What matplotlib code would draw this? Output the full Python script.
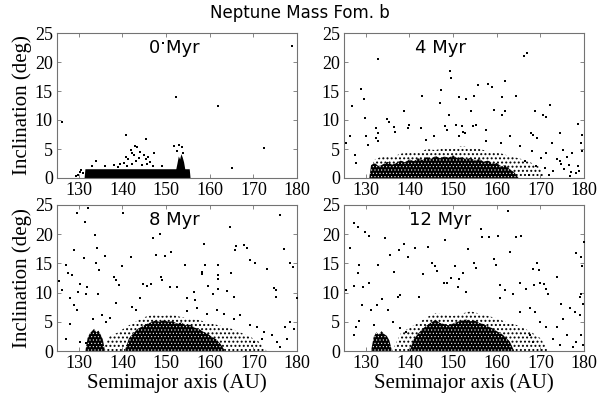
import matplotlib
matplotlib.use("Agg")
import matplotlib.pyplot as plt

# ---------------- data ----------------
title = "Neptune Mass Fom. b"
panel_labels = ["0 Myr", "4 Myr", "8 Myr", "12 Myr"]
xticks = [130, 140, 150, 160, 170, 180]
yticks = [0, 5, 10, 15, 20, 25]

# Panel 0 Myr: sparse points (a [AU], i [deg])
a0 = [126.1, 152.2, 161.8, 178.8, 172.5, 165.0, 149.3, 140.8, 145.3, 142.9, 143.3, 141.9,
      140.8, 142.3, 144.0, 144.9, 145.9, 147.2, 145.5, 141.3, 140.3, 142.1, 143.2, 144.4,
      145.7, 139.4, 138.0, 134.0, 151.7, 153.0, 153.6, 152.5, 153.8, 149.0, 147.1, 136.0,
      129.8, 130.2, 129.3, 130.6, 131.0, 141.0, 143.8, 146.3, 142.6, 139.0, 133.0]
i0 = [9.7, 14.0, 12.5, 22.8, 5.1, 1.8, 23.3, 7.5, 6.7, 5.6, 5.3, 4.9,
      3.7, 4.3, 4.4, 4.0, 3.6, 4.3, 3.2, 3.2, 2.6, 2.5, 2.9, 2.3,
      2.5, 2.5, 2.3, 2.9, 5.5, 5.7, 5.3, 4.6, 4.3, 2.0, 2.1, 2.0,
      0.6, 1.1, 0.3, 1.4, 0.9, 2.1, 3.4, 2.8, 3.9, 1.9, 2.0]
# dense band envelope (upper inclination of the densely filled region)
band0_a = [131.2, 131.4, 155.3, 155.5]
band0_top = [0.0, 1.6, 1.6, 0.0]
clump0_a = [152.2, 152.5, 152.8, 153.1, 153.4, 153.7, 154.0, 154.3]
clump0_top = [1.5, 2.6, 3.8, 3.3, 4.2, 3.6, 2.8, 1.5]

# Panel 4 Myr
a4 = [132.9, 129.0, 129.6, 126.8, 129.8, 134.9, 135.3, 138.8, 142.9, 147.2, 147.1, 149.2,
      149.6, 149.1, 151.4, 153.0, 154.7, 155.8, 154.0, 158.1, 159.0, 159.3, 161.3, 162.0,
      161.8, 161.1, 164.4, 166.2, 167.0, 168.8, 170.7, 171.4, 172.1, 174.4, 178.6, 179.6,
      179.4, 126.3, 125.5, 127.5, 127.8, 130.1, 130.6, 132.3, 132.9, 132.4, 132.9, 136.5,
      136.8, 139.7, 140.0, 142.6, 143.9, 145.7, 148.1, 148.5, 150.7, 152.7, 155.3, 154.6,
      152.3, 152.1, 151.4, 157.5, 157.6, 161.0, 163.0, 165.3, 167.9, 168.3, 169.2, 172.7,
      175.2, 177.3, 171.4, 168.0, 170.2, 173.7, 174.4, 176.0, 178.6, 179.6, 175.5, 177.0,
      178.2, 176.5, 173.0, 166.5, 169.0, 172.0, 174.8, 176.8, 178.9, 171.0, 167.5]
i4 = [20.5, 15.3, 13.6, 12.4, 10.3, 10.2, 9.6, 11.5, 14.2, 15.1, 12.9, 18.5,
      17.2, 10.8, 14.0, 13.7, 14.2, 16.1, 11.6, 16.2, 15.7, 11.8, 13.9, 16.8,
      11.6, 10.9, 14.1, 21.0, 21.6, 11.5, 10.9, 10.6, 12.6, 7.8, 9.3, 7.4,
      6.0, 7.2, 6.0, 4.0, 2.6, 7.2, 5.7, 8.6, 7.8, 6.9, 6.3, 8.8,
      8.0, 8.6, 9.2, 8.6, 6.6, 7.2, 9.0, 8.3, 9.2, 7.8, 9.2, 9.0,
      8.0, 8.9, 7.2, 8.3, 6.3, 6.0, 7.2, 5.5, 7.8, 7.5, 6.9, 6.0,
      4.9, 4.3, 4.3, 4.6, 3.4, 3.2, 2.9, 3.7, 2.0, 4.6, 1.5, 1.0,
      0.8, 2.2, 1.2, 3.0, 2.0, 0.6, 2.4, 0.4, 1.2, 1.8, 0.5]
core4_a = [130.8, 131.2, 132, 133, 134, 135, 136, 137, 138, 139, 140, 141, 142, 143, 144, 145,
           146, 147, 148, 149, 150, 151, 152, 153, 154, 155, 156, 157, 158, 159, 160, 161,
           162, 163, 164, 165]
core4_top = [0, 2.2, 2.6, 2.0, 2.4, 2.8, 2.3, 2.6, 3.0, 2.7, 3.2, 2.9, 3.4, 3.1, 3.6, 3.3,
             3.8, 3.4, 3.7, 3.5, 3.9, 3.4, 3.6, 3.2, 3.5, 3.0, 3.3, 2.8, 3.0, 2.5, 2.6, 2.0,
             2.2, 1.5, 1.0, 0]
halo4_a = [130.5, 132, 134, 136, 138, 140, 142, 144, 146, 148, 150, 152, 154, 156, 158, 160,
           162, 164, 166, 168, 170, 171]
halo4_top = [0, 3.2, 3.8, 3.6, 4.2, 4.5, 4.3, 5.0, 4.8, 5.3, 5.0, 5.5, 5.2, 5.0, 4.6, 4.5,
             4.0, 3.6, 3.2, 2.6, 1.8, 0]

# Panel 8 Myr
a8 = [129.6, 131.4, 132.1, 140.2, 133.6, 134.2, 135.9, 134.0, 134.6, 131.1, 129.0, 127.1,
      127.5, 128.5, 125.5, 126.1, 130.2, 131.9, 129.9, 131.6, 134.3, 139.9, 138.1, 138.6,
      139.3, 138.5, 142.0, 144.8, 145.6, 146.5, 147.1, 148.6, 147.8, 149.8, 151.1, 148.8,
      149.0, 150.9, 152.6, 154.3, 154.7, 156.6, 156.3, 158.6, 159.0, 158.3, 158.3, 162.0,
      162.0, 162.0, 164.9, 164.7, 166.0, 165.9, 167.9, 168.5, 169.3, 170.4, 173.1, 176.2,
      177.0, 178.5, 179.0, 179.9, 174.8, 175.3, 175.1, 162.0, 163.9, 165.5, 160.7, 159.6,
      144.0, 142.1, 143.1, 135.2, 137.1, 136.2, 133.3, 129.6, 127.9, 128.8, 128.0, 127.1,
      130.2, 131.7, 154.7, 157.0, 159.3, 161.6, 163.2, 165.5, 167.0, 169.3, 170.8, 172.4,
      174.3, 175.4, 177.3, 178.5, 179.3, 177.7, 172.0, 170.1, 176.2]
i8 = [23.6, 22.1, 24.5, 23.7, 19.9, 17.7, 16.3, 15.1, 13.8, 16.0, 17.3, 14.7,
      13.4, 13.0, 12.0, 10.5, 11.4, 11.0, 10.1, 9.8, 9.7, 14.6, 12.6, 12.1,
      11.3, 8.2, 16.1, 11.4, 11.2, 11.4, 19.3, 20.0, 16.5, 16.3, 17.0, 12.7,
      12.1, 11.0, 11.0, 14.8, 9.0, 8.7, 10.1, 18.4, 14.7, 13.6, 13.2, 14.7,
      13.0, 12.4, 13.3, 21.3, 18.0, 17.3, 18.1, 17.6, 15.6, 15.1, 14.0, 23.3,
      17.4, 15.0, 14.4, 9.0, 10.8, 10.4, 9.3, 10.6, 10.2, 9.3, 9.8, 11.2,
      9.0, 7.6, 7.0, 6.1, 5.7, 5.0, 5.5, 7.0, 9.0, 7.8, 4.7, 2.1,
      1.5, 1.3, 6.9, 7.3, 6.4, 7.0, 6.4, 5.5, 6.1, 4.4, 4.1, 3.3,
      2.7, 1.5, 4.1, 5.0, 3.8, 2.1, 2.1, 1.5, 0.7]
clump8_a = [131.5, 132, 132.5, 133, 133.5, 134, 134.5, 135, 135.5, 136]
clump8_top = [0, 2.2, 3.0, 3.4, 3.8, 3.2, 3.5, 2.8, 2.0, 0]
core8_a = [140.5, 141.5, 142.5, 143.5, 144.5, 145.5, 146.5, 147.5, 148.5, 149.5, 150.5, 151.5,
           152.5, 153.5, 154.5, 155.5, 156.5, 157.5, 158.5, 159.5, 160.5, 161.5, 162.5, 163.5]
core8_top = [0, 2.2, 3.0, 3.8, 4.2, 4.6, 4.9, 5.2, 5.0, 5.3, 5.0, 5.1,
             4.7, 4.9, 4.4, 4.5, 4.0, 3.8, 3.3, 3.0, 2.4, 2.0, 1.2, 0]
halo8_a = [135, 137, 139, 141, 143, 145, 147, 149, 151, 153, 155, 157, 159, 161, 163, 165,
           167, 169, 171, 173]
halo8_top = [0, 2.5, 3.2, 4.2, 5.0, 5.8, 6.2, 6.0, 6.3, 5.9, 5.6, 5.4, 5.0, 4.6, 4.2, 3.8,
             3.2, 2.5, 1.8, 0]

# Panel 12 Myr
a12 = [127.3, 128.2, 129.7, 130.7, 126.3, 128.4, 128.2, 125.5, 127.4, 129.4, 130.7, 132.8,
       134.5, 135.6, 136.4, 137.6, 138.7, 139.7, 141.2, 143.1, 144.3, 145.2, 145.8, 146.2,
       148.1, 147.9, 149.6, 150.4, 151.4, 152.3, 153.4, 154.7, 155.3, 156.5, 156.7, 158.2,
       159.3, 159.9, 160.4, 162.6, 163.1, 160.7, 164.5, 165.6, 168.3, 169.2, 169.6, 168.5,
       169.9, 170.8, 171.2, 171.7, 173.7, 174.8, 178.1, 179.2, 179.6, 179.9, 179.4, 179.0,
       179.8, 160.7, 161.8, 163.7, 165.3, 166.8, 153.0, 151.1, 148.5, 142.3, 137.8, 137.4,
       135.1, 133.8, 132.6, 131.1, 129.2, 128.4, 127.7, 127.2, 131.8, 136.2, 137.8, 139.3,
       176.7, 177.9, 179.0, 175.2, 173.7, 176.0, 178.2, 177.5, 174.4, 172.9, 171.4, 170.0,
       179.4, 179.8, 168.7, 167.6, 165.3, 167.6, 168.3]
i12 = [22.0, 21.2, 20.3, 19.7, 17.7, 14.8, 13.4, 10.4, 11.2, 11.0, 11.7, 14.7,
       19.3, 16.5, 13.6, 17.3, 18.4, 16.1, 17.7, 13.1, 17.8, 15.0, 14.6, 13.7,
       19.0, 11.7, 12.5, 14.6, 12.3, 13.3, 17.4, 15.0, 14.2, 20.9, 19.6, 19.5,
       15.8, 14.8, 19.7, 24.0, 17.0, 11.3, 19.6, 19.7, 14.1, 15.0, 13.8, 11.3,
       11.6, 11.4, 10.6, 9.8, 12.7, 8.1, 16.7, 16.1, 14.6, 18.7, 9.7, 9.3,
       8.1, 9.0, 10.4, 9.8, 11.6, 10.7, 10.1, 11.0, 11.6, 9.3, 9.6, 9.3,
       7.0, 8.9, 7.8, 7.0, 7.8, 5.1, 4.1, 2.7, 4.4, 5.0, 3.9, 3.3,
       7.3, 6.7, 6.1, 5.5, 4.1, 2.7, 1.5, 0.7, 1.0, 2.1, 4.1, 5.0,
       2.7, 1.0, 6.7, 7.3, 6.7, 2.7, 1.5]
clump12_a = [131.2, 131.8, 132.4, 133.0, 133.6, 134.2, 134.8, 135.4, 136.0]
clump12_top = [0, 2.4, 3.2, 2.8, 3.4, 2.9, 2.6, 1.8, 0]
core12_a = [140.0, 141.0, 142.0, 143.0, 144.0, 145.0, 146.0, 147.0, 148.0, 149.0, 150.0, 151.0,
            152.0, 153.0, 154.0, 155.0, 156.0, 157.0, 158.0, 159.0, 160.0, 161.0, 162.0, 163.0, 164.0]
core12_top = [0, 2.0, 3.0, 3.8, 4.4, 4.9, 5.3, 4.8, 4.6, 4.4, 4.7, 5.0,
              5.2, 5.4, 5.1, 5.2, 4.8, 4.6, 4.2, 3.9, 3.4, 3.0, 2.4, 1.6, 0]
halo12_a = [136, 138, 140, 142, 144, 146, 148, 150, 152, 154, 156, 158, 160, 162, 164, 166,
            168, 170, 172]
halo12_top = [0, 3.0, 4.0, 4.8, 5.8, 6.5, 6.2, 6.0, 6.4, 6.8, 6.4, 6.0, 5.6, 5.0, 4.6, 4.0,
              3.2, 2.2, 0]

# ---------------- plotting ----------------
serif = ['Liberation Serif', 'DejaVu Serif']

fig = plt.figure(figsize=(6.0, 3.94), dpi=100)
W, H = 600.0, 394.0
boxes = [(57, 33, 240, 145), (344, 33, 240, 145), (57, 205, 240, 146), (344, 205, 240, 146)]
label_x = [0.49, 0.40, 0.49, 0.40]

panels = [
    dict(a=a0, i=i0, solids=[(band0_a, band0_top), (clump0_a, clump0_top)], halos=[]),
    dict(a=a4, i=i4, solids=[(core4_a, core4_top)], halos=[(halo4_a, halo4_top)]),
    dict(a=a8, i=i8, solids=[(core8_a, core8_top), (clump8_a, clump8_top)], halos=[(halo8_a, halo8_top)]),
    dict(a=a12, i=i12, solids=[(core12_a, core12_top), (clump12_a, clump12_top)], halos=[(halo12_a, halo12_top)]),
]

for k, (box, p) in enumerate(zip(boxes, panels)):
    x0, y0, w, h = box
    ax = fig.add_axes([x0 / W, 1 - (y0 + h) / H, w / W, h / H])
    # looser fringe of points round the dense core: black speckle texture
    with plt.rc_context({'hatch.linewidth': 0.9}):
        for xa, top in p['halos']:
            ax.fill_between(xa, 0, top, facecolor='none', edgecolor='black',
                            hatch='....', linewidth=0, zorder=1)
    # dense core: black with small white speckles
    with plt.rc_context({'hatch.linewidth': 0.4}):
        for xa, top in p['solids']:
            ax.fill_between(xa, 0, top, facecolor='black', edgecolor='white',
                            hatch='.....' if k > 0 else None, linewidth=0, zorder=2)
    ax.scatter(p['a'], p['i'], s=2.2, marker='s', c='black', linewidths=0, zorder=3)
    ax.set_xlim(125, 180)
    ax.set_ylim(0, 25)
    ax.set_xticks(xticks)
    ax.set_yticks(yticks)
    ax.tick_params(direction='in', length=3, width=0.6, top=True, right=True,
                   colors='0.45', labelcolor='black', labelsize=13, pad=3)
    for lab in ax.get_xticklabels() + ax.get_yticklabels():
        lab.set_family(serif)
    for sp in ax.spines.values():
        sp.set_color('0.45')
        sp.set_linewidth(0.8)
    if k % 2 == 0:
        ax.set_ylabel('Inclination (deg)', family=serif, fontsize=15, labelpad=2)
    if k >= 2:
        ax.set_xlabel('Semimajor axis (AU)', family=serif, fontsize=15, labelpad=1)
    ax.text(label_x[k], 0.895, panel_labels[k], transform=ax.transAxes,
            ha='center', va='center', fontsize=13, family='DejaVu Sans')

fig.text(0.5, 1 - 13 / H, title, ha='center', va='center', fontsize=12, family='DejaVu Sans')
fig.savefig('out.png', dpi=100)
